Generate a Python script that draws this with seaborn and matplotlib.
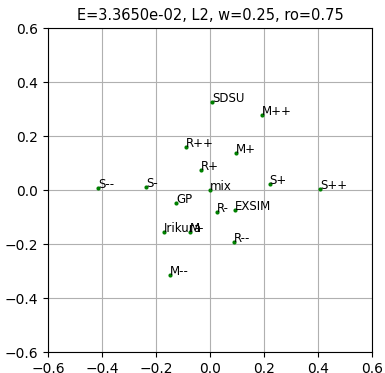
import matplotlib
matplotlib.use("Agg")
import matplotlib.pyplot as plt
import seaborn as sns
import pandas as pd

# point labels and their 2-D embedding coordinates
labels = ["SDSU", "M++", "R++", "M+", "R+", "S--", "S-", "mix", "S+", "S++",
          "GP", "R-", "EXSIM", "Irikura", "M-", "R--", "M--"]
xs = [0.008, 0.193, -0.090, 0.095, -0.034, -0.413, -0.236, 0.000, 0.221, 0.407,
      -0.125, 0.026, 0.091, -0.170, -0.075, 0.089, -0.148]
ys = [0.326, 0.278, 0.160, 0.136, 0.073, 0.006, 0.010, 0.000, 0.021, 0.003,
      -0.047, -0.083, -0.073, -0.154, -0.156, -0.191, -0.315]
ticks = [-0.6, -0.4, -0.2, 0.0, 0.2, 0.4, 0.6]
title = "E=3.3650e-02, L2, w=0.25, ro=0.75"

df = pd.DataFrame({"label": labels, "x": xs, "y": ys})

fig = plt.figure(figsize=(3.85, 3.73), dpi=100)
ax = fig.add_axes([48 / 385, 1 - 352 / 373, 324 / 385, 324 / 373])
sns.scatterplot(data=df, x="x", y="y", ax=ax, color="green", s=9,
                edgecolor="green", linewidth=0, zorder=3)
for _, row in df.iterrows():
    ax.text(row["x"], row["y"], row["label"], fontsize=8.5, zorder=4)

ax.set_xlim(ticks[0], ticks[-1])
ax.set_ylim(ticks[0], ticks[-1])
ax.set_xticks(ticks)
ax.set_yticks(ticks)
ax.tick_params(labelsize=10)
ax.grid(True, color="#b0b0b0", linewidth=0.8)
ax.set_xlabel("")
ax.set_ylabel("")
ax.set_title(title, fontsize=10.5)

fig.savefig("out.png", dpi=100)
